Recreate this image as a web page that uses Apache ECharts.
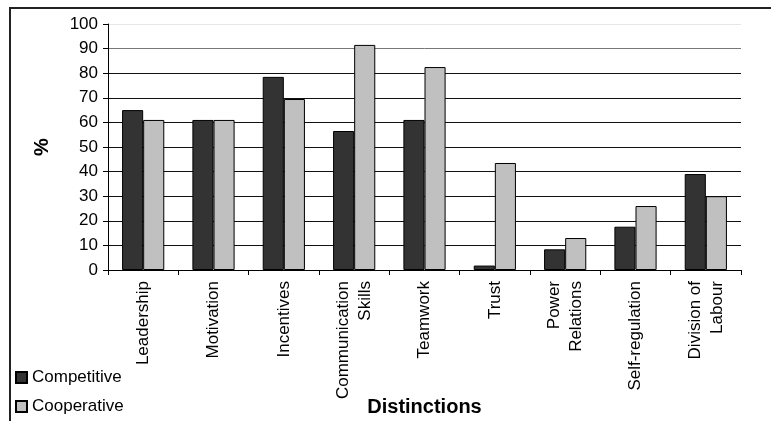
<!DOCTYPE html>
<html>
<head>
<meta charset="utf-8">
<script src="https://cdn.jsdelivr.net/npm/echarts@6/dist/echarts.min.js"></script>
<style>
  html, body { margin: 0; padding: 0; background: #fff; }
  #chart { width: 771px; height: 421px; }
</style>
</head>
<body>
<div id="chart"></div>
<script>
// Categories along the horizontal axis
const categories = [
  'Leadership', 'Motivation', 'Incentives', 'Communication\nSkills',
  'Teamwork', 'Trust', 'Power\nRelations', 'Self-regulation', 'Division of\nLabour'
];

// Percentage per distinction for each group
const competitive = [65, 61, 78.5, 56.5, 61, 1.8, 8.4, 17.6, 39];
const cooperative = [61, 61, 69.5, 91.5, 82.5, 43.5, 13, 26, 30];

// Value axis range and step
const yMin = 0;
const yMax = 100;
const yStep = 10;

const FONT = '"Liberation Sans", Arial, sans-serif';

const legendBase = {
  orient: 'vertical',
  left: 15,
  padding: 0,
  itemWidth: 11,
  itemHeight: 11,
  icon: 'rect',
  textStyle: { fontFamily: FONT, fontSize: 17, color: '#000' }
};

const chart = echarts.init(document.getElementById('chart'), null, { renderer: 'canvas' });

chart.setOption({
  animation: false,
  backgroundColor: '#ffffff',
  textStyle: { fontFamily: FONT, color: '#000' },
  grid: { left: 108, right: 30, top: 24, bottom: 151, containLabel: false, outerBoundsMode: 'none' },
  graphic: [
    {
      type: 'rect',
      shape: { x: 10, y: 8, width: 780, height: 430 },
      style: { fill: 'none', stroke: '#222', lineWidth: 2 },
      silent: true
    }
  ],
  legend: [
    Object.assign({}, legendBase, { top: 369, data: ['Competitive'] }),
    Object.assign({}, legendBase, { top: 398, data: ['Cooperative'] })
  ],
  xAxis: {
    type: 'category',
    data: categories,
    name: 'Distinctions',
    nameLocation: 'middle',
    nameGap: 127,
    nameMoveOverlap: false,
    nameTextStyle: { fontFamily: FONT, fontSize: 20, fontWeight: 'bold', color: '#000', verticalAlign: 'top' },
    axisLine: { lineStyle: { color: '#000', width: 1 } },
    axisTick: { show: true, length: 5, lineStyle: { color: '#000' } },
    axisLabel: {
      interval: 0,
      rotate: 90,
      margin: 11,
      fontFamily: FONT,
      fontSize: 17,
      lineHeight: 22,
      color: '#000'
    },
    splitLine: { show: false }
  },
  yAxis: {
    type: 'value',
    min: yMin,
    max: yMax,
    interval: yStep,
    name: '%',
    nameLocation: 'middle',
    nameGap: 56,
    nameMoveOverlap: false,
    nameRotate: 90,
    nameTextStyle: { fontFamily: FONT, fontSize: 20, fontWeight: 'bold', color: '#000' },
    axisLine: { show: true, lineStyle: { color: '#000', width: 1 } },
    axisTick: { show: true, length: 5, lineStyle: { color: '#000' } },
    axisLabel: { margin: 10, fontFamily: FONT, fontSize: 17, color: '#000' },
    splitLine: {
      show: true,
      lineStyle: {
        width: 1,
        color: ['#000', '#111', '#111', '#111', '#111', '#111', '#111', '#111', '#111', '#777', '#e6e6e6']
      }
    }
  },
  series: [
    {
      name: 'Competitive',
      type: 'bar',
      data: competitive,
      barGap: '0%',
      barCategoryGap: '40%',
      itemStyle: { color: '#333333', borderColor: '#000', borderWidth: 1 }
    },
    {
      name: 'Cooperative',
      type: 'bar',
      data: cooperative,
      barGap: '0%',
      barCategoryGap: '40%',
      itemStyle: { color: '#c0c0c0', borderColor: '#000', borderWidth: 1 }
    }
  ]
});
</script>
</body>
</html>
